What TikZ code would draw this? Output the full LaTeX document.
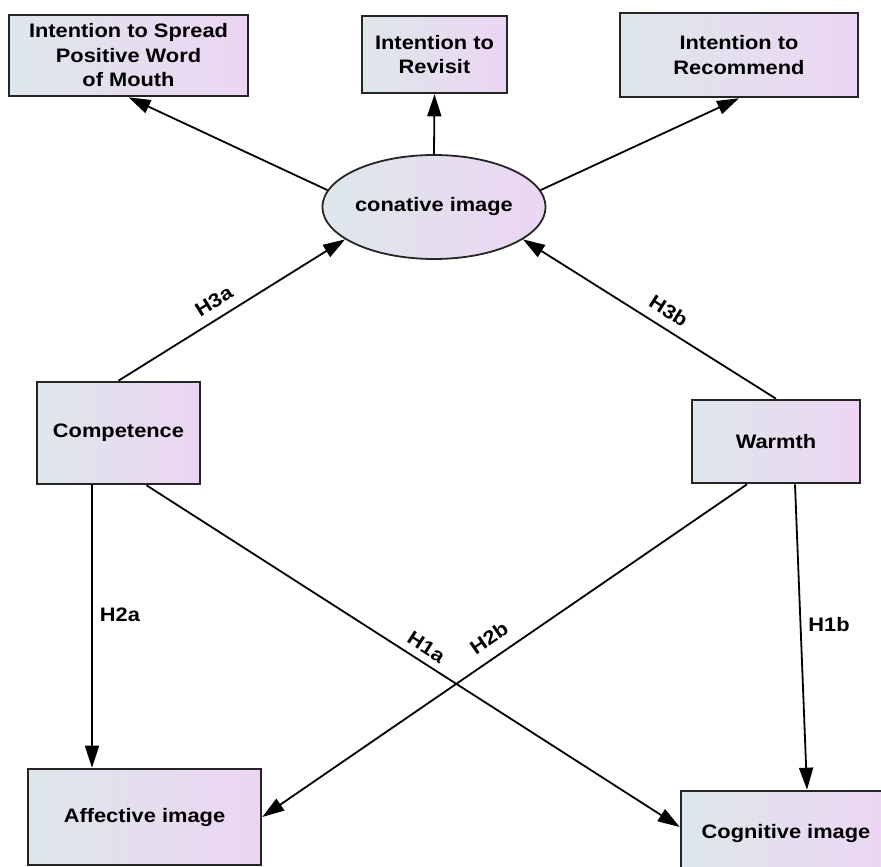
\documentclass[tikz,border=0pt]{standalone}
\usepackage{fontspec}
\setmainfont{Liberation Sans}[FakeStretch=1.12]
\usetikzlibrary{arrows.meta,shapes.geometric}

\definecolor{boxleft}{HTML}{DEE7EB}
\definecolor{boxright}{HTML}{ECD5F3}
\definecolor{boxline}{HTML}{252525}

\begin{document}
\begin{tikzpicture}[x=1pt, y=-1pt,
  box/.style={draw=boxline, line width=2.6pt, left color=boxleft, right color=boxright,
    inner sep=0pt, align=center, font=\bfseries\fontsize{19.5}{24.5}\selectfont},
  oval/.style={ellipse, draw=boxline, line width=1.8pt, left color=boxleft, right color=boxright,
    inner sep=0pt, font=\bfseries\fontsize{19.5}{24.5}\selectfont},
  arr/.style={-{Triangle[length=22pt,width=14pt]}, line width=1.8pt, black},
  hyp/.style={inner sep=0pt, font=\bfseries\fontsize{19.5}{24.5}\selectfont}]

\useasboundingbox (0,0) rectangle (881,867);
\clip (0,0) rectangle (881,867);

\node[box, minimum width=239pt, minimum height=81pt] (spread) at (128.5,55.5) {Intention to Spread\\Positive Word\\of Mouth};
\node[box, minimum width=145pt, minimum height=77pt] (revisit) at (434.5,54.5) {Intention to\\Revisit};
\node[box, minimum width=238pt, minimum height=84pt] (recommend) at (739,55) {Intention to\\Recommend};
\node[oval, minimum width=190pt, minimum height=104pt] (conative) at (434,207) {conative image};
\node[box, minimum width=163pt, minimum height=102pt] (competence) at (118.5,433) {Competence};
\node[box, minimum width=168pt, minimum height=83pt] (warmth) at (776,441.5) {Warmth};
\node[box, minimum width=233pt, minimum height=96pt] (affective) at (144.5,817) {Affective image};
\node[box, minimum width=210pt, minimum height=84pt] (cognitive) at (786,833) {Cognitive image};

\draw[arr] (conative.171) -- (spread.south);
\draw[arr] (conative.north) -- (revisit.south);
\draw[arr] (conative.9) -- (recommend.south);
\draw[arr] (competence.north) -- node[hyp, pos=0.46, above=9pt, sloped] {H3a} (conative.200);
\draw[arr] (warmth.north) -- node[hyp, pos=0.46, above=9pt, sloped] {H3b} (conative.340);
\draw[arr] ([xshift=-26.5pt]competence.south) -- node[hyp, pos=0.46, right=7pt] {H2a} ([xshift=-26.5pt]competence.south |- affective.north);
\draw[arr] ([xshift=28pt]competence.south) -- node[hyp, pos=0.51, above=7pt, sloped] {H1a} ([yshift=6pt]cognitive.west);
\draw[arr] ([xshift=-29pt]warmth.south) -- node[hyp, pos=0.51, above=11pt, sloped] {H2b} (affective.east);
\draw[arr] ([xshift=19pt]warmth.south) -- node[hyp, pos=0.46, right=7pt] {H1b} ([xshift=21pt]cognitive.north);
\end{tikzpicture}
\end{document}
